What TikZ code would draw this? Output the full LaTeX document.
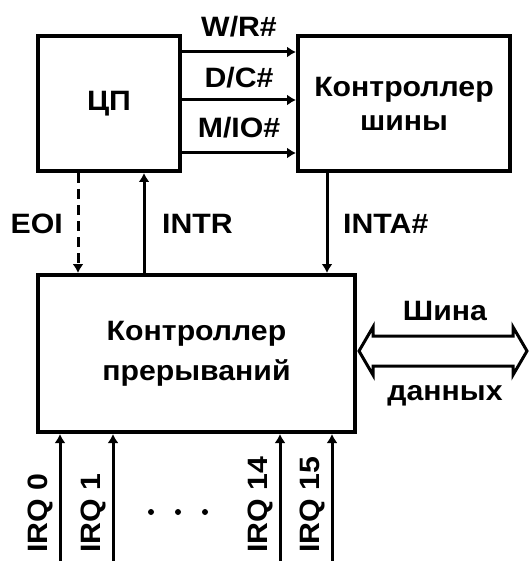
\documentclass[tikz,border=0pt]{standalone}
\usepackage{fontspec}
\setmainfont{Liberation Sans}[FakeStretch=1.08]
\usetikzlibrary{arrows.meta,positioning}

\begin{document}
\begin{tikzpicture}[
    x=1pt, y=-1pt,
    font=\bfseries\fontsize{28}{34}\selectfont,
    node distance=100pt and 114pt,
    unit/.style={draw, line width=4pt, align=center, inner sep=0pt},
    sigarrow/.style={-{Latex[length=9pt,width=11pt]}, line width=3pt},
    sig/.style={inner sep=0pt}
  ]
    \useasboundingbox (0,0) rectangle (530,561);
    \node[unit, minimum width=142pt, minimum height=135pt, anchor=north west] (cpu) at (36,34) {ЦП};
    \node[unit, right=of cpu, minimum width=212pt, minimum height=135pt] (bus) {Контроллер\\ шины};
    \node[unit, below=of cpu.south west, anchor=north west, minimum width=317pt, minimum height=157pt,
      font=\bfseries\fontsize{28}{40}\selectfont] (intc) {Контроллер\\ прерываний};
    % cpu -> bus controller
    \draw[sigarrow] (cpu.east |- 0,52) -- (bus.west |- 0,52)
      node[sig, midway, anchor=base, yshift=15pt] (wr) {W/R\#};
    \draw[sigarrow] (cpu.east |- 0,100) -- (bus.west |- 0,100)
      node[sig, midway, anchor=base, yshift=12pt] (dc) {D/C\#};
    \draw[sigarrow] (cpu.east |- 0,153) -- (bus.west |- 0,153)
      node[sig, midway, anchor=base, yshift=15pt] (mio) {M/IO\#};
    % interrupt lines
    \draw[sigarrow, dash pattern=on 10pt off 6pt] (cpu.south -| 78,0) -- (intc.north -| 78,0);
    \draw[sigarrow] (intc.north -| 144,0) -- (cpu.south -| 144,0);
    \draw[sigarrow] (bus.south -| 327,0) -- (intc.north -| 327,0);
    \node[sig, anchor=base east] (eoi) at (63,233) {EOI};
    \node[sig, anchor=base west] (intr) at (162,233) {INTR};
    \node[sig, anchor=base west] (inta) at (343,233) {INTA\#};
    % data bus
    \coordinate (dbus) at ([xshift=2pt]intc.east |- 0,351);
    \draw[line width=3pt] (dbus) -- ++(14,-24) -- ++(0,9) -- ++(140,0) -- ++(0,-9) -- ++(14,24)
      -- ++(-14,24) -- ++(0,-9) -- ++(-140,0) -- ++(0,9) -- cycle;
    \node[sig, anchor=base] (dtop) at (445,320) {Шина};
    \node[sig, anchor=base] (dbot) at (445,400) {данных};
    % irq inputs
    \foreach \x/\n in {60/0,113/1,280/14,332/15} {
      \coordinate (in\n) at (\x,566);
      \draw[sigarrow] (in\n) -- (intc.south -| in\n);
      \node[sig, rotate=90, anchor=base west] (irq\n) at (\x-13,553) {IRQ \n};
    }
    \foreach \x in {151,178,205}
      \fill (\x,512) circle (3pt);
  \end{tikzpicture}
\end{document}
